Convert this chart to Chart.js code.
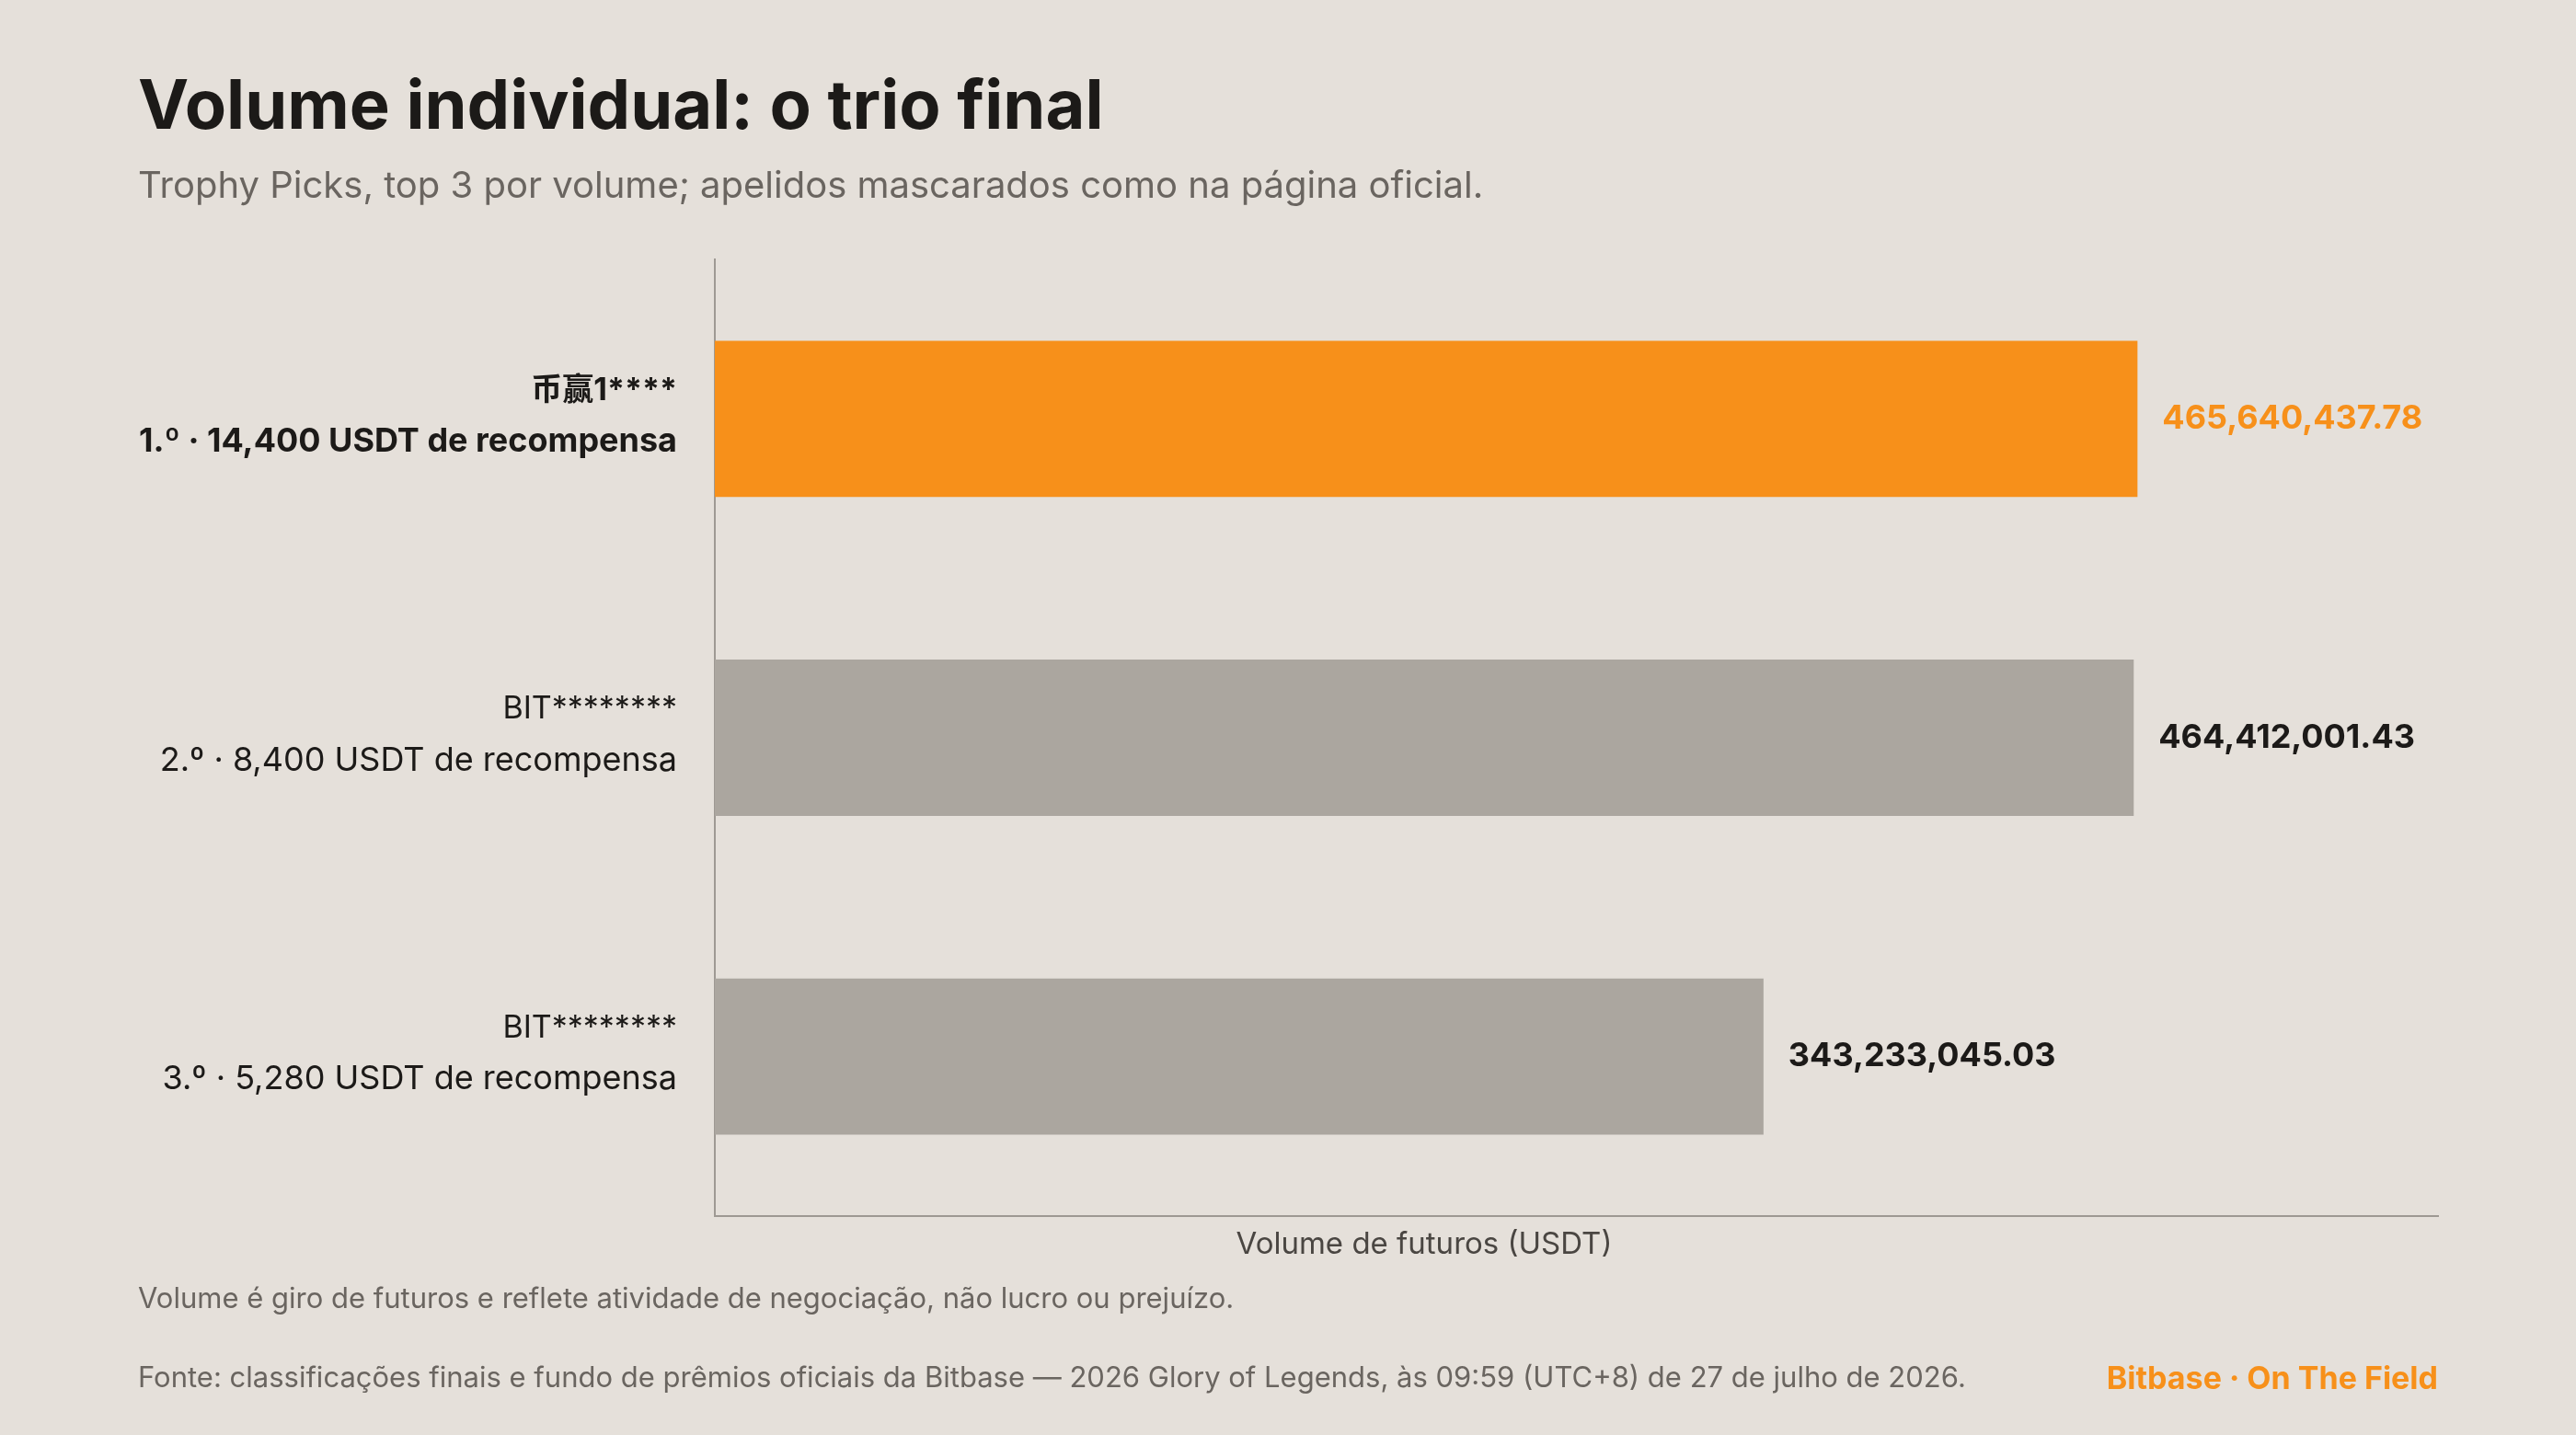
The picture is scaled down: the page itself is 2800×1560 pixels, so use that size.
<!DOCTYPE html>
<html><head><meta charset="utf-8">
<script src="https://cdn.jsdelivr.net/npm/chart.js@4"></script>
<style>html,body{margin:0;padding:0;background:#E5E0DA;}#c{display:block;}</style>
</head><body>
<canvas id="c" width="2800" height="1560" style="width:2800px;height:1560px"></canvas>
<script>
const names = ["币赢1****", "BIT********", "BIT********"];
const rewards = ["1.º · 14,400 USDT de recompensa", "2.º · 8,400 USDT de recompensa", "3.º · 5,280 USDT de recompensa"];
const volumes = [465640437.78, 464412001.43, 343233045.03];
const valueLabels = ["465,640,437.78", "464,412,001.43", "343,233,045.03"];
const xMax = 564000000;
const F = "Inter, 'Noto Sans', 'Noto Sans CJK SC', sans-serif";
const ORANGE = "#F7901A", GRAY = "#ABA69F", INK = "#1C1A18", MUTED = "#6A6560";

const textPlugin = {
  id: 'texts',
  afterDatasetsDraw(chart) {
    const ctx = chart.ctx, a = chart.chartArea;
    const meta = chart.getDatasetMeta(0);
    ctx.save();
    ctx.textBaseline = 'middle';
    meta.data.forEach((bar, i) => {
      const y = bar.y;
      ctx.textAlign = 'right';
      ctx.fillStyle = INK;
      ctx.font = (i === 0 ? '700 ' : '400 ') + '34px ' + F;
      ctx.fillText(names[i], a.left - 41, y - 31);
      ctx.font = (i === 0 ? '700 ' : '400 ') + '36px ' + F;
      ctx.fillText(rewards[i], a.left - 41, y + 25);
      ctx.textAlign = 'left';
      ctx.fillStyle = i === 0 ? ORANGE : INK;
      ctx.font = '700 36px ' + F;
      ctx.fillText(valueLabels[i], bar.x + 27, y);
    });
    ctx.textAlign = 'center';
    ctx.fillStyle = '#4A4642';
    ctx.font = '400 33px ' + F;
    ctx.fillText("Volume de futuros (USDT)", 1548, a.bottom + 31);
    ctx.restore();
  }
};

new Chart(document.getElementById('c'), {
  type: 'bar',
  data: {
    labels: names,
    datasets: [{
      data: volumes,
      backgroundColor: [ORANGE, GRAY, GRAY],
      barPercentage: 0.49,
      categoryPercentage: 1
    }]
  },
  options: {
    indexAxis: 'y',
    responsive: false,
    animation: false,
    layout: { padding: { left: 777, right: 150, top: 282, bottom: 238 } },
    plugins: {
      legend: { display: false }, tooltip: { enabled: false },
      title: { display: false }
    },
    scales: {
      x: { min: 0, max: xMax, ticks: { display: false }, grid: { display: false, drawTicks: false },
           border: { display: true, color: '#9E9993', width: 2 } },
      y: { ticks: { display: false }, grid: { display: false, drawTicks: false },
           border: { display: true, color: '#9E9993', width: 2 } }
    }
  },
  plugins: [textPlugin, {
    id: 'frame',
    beforeDraw(chart) {
      const ctx = chart.ctx;
      ctx.save();
      ctx.fillStyle = '#E5E0DA'; ctx.fillRect(0, 0, 2800, 1560);
      ctx.textBaseline = 'alphabetic'; ctx.textAlign = 'left';
      ctx.fillStyle = INK; ctx.font = '700 74px ' + F;
      ctx.fillText("Volume individual: o trio final", 150, 140);
      ctx.fillStyle = MUTED; ctx.font = '400 40px ' + F;
      ctx.fillText("Trophy Picks, top 3 por volume; apelidos mascarados como na página oficial.", 150, 215);
      ctx.font = '400 31px ' + F;
      ctx.fillText("Volume é giro de futuros e reflete atividade de negociação, não lucro ou prejuízo.", 150, 1422);
      ctx.fillText("Fonte: classificações finais e fundo de prêmios oficiais da Bitbase — 2026 Glory of Legends, às 09:59 (UTC+8) de 27 de julho de 2026.", 150, 1508);
      ctx.textAlign = 'right'; ctx.fillStyle = ORANGE; ctx.font = '700 34px ' + F;
      ctx.fillText("Bitbase · On The Field", 2650, 1510);
      ctx.restore();
    }
  }]
});
</script>
</body></html>
